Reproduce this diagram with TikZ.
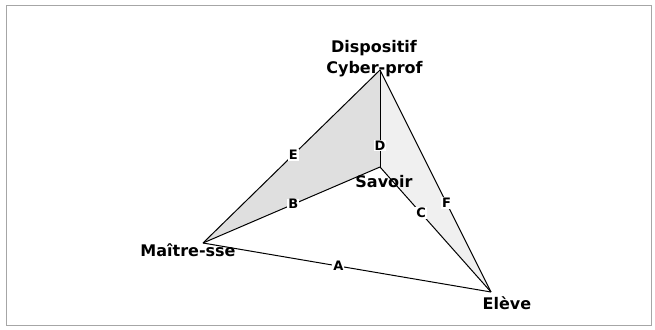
\documentclass[tikz,border=0pt]{standalone}
\usepackage{fontspec}
\setmainfont{DejaVu Sans}
\begin{document}
\begin{tikzpicture}[x=1pt,y=-1pt,
  vertexlabel/.style={font=\bfseries\fontsize{16}{18}\selectfont, inner sep=0pt},
  edgelabel/.style={font=\bfseries\fontsize{13}{15}\selectfont, fill=white, inner sep=1pt},
  edge/.style={draw=black, line width=1pt},
]
\useasboundingbox (0,0) rectangle (655,329);
\draw[gray!70, line width=0.6pt] (6,5) rectangle (651,325);

% corners of the tetrahedron
\coordinate (cyber) at (380,70);
\coordinate (savoir) at (380,167);
\coordinate (maitre) at (203,243);
\coordinate (eleve) at (491,292);

% shaded faces
\fill[gray!25] (maitre) -- (cyber) -- (savoir) -- cycle;
\fill[gray!12] (cyber) -- (eleve) -- (savoir) -- cycle;

% edges with their letters
\draw[edge] (maitre) -- node[edgelabel, pos=0.47] (la) {A} (eleve);
\draw[edge] (maitre) -- node[edgelabel, pos=0.51] (lb) {B} (savoir);
\draw[edge] (savoir) -- node[edgelabel, pos=0.37] (lc) {C} (eleve);
\draw[edge] (cyber) -- node[edgelabel, pos=0.78] (ld) {D} (savoir);
\draw[edge] (cyber) -- node[edgelabel, pos=0.49] (le) {E} (maitre);
\draw[edge] (cyber) -- node[edgelabel, pos=0.6] (lf) {F} (eleve);

% corner names
\node[vertexlabel] (disp) at (374,48) {Dispositif};
\node[vertexlabel] (cyb) at (374.5,69) {Cyber-prof};
\node[vertexlabel] (sav) at (384,182) {Savoir};
\node[vertexlabel] (mai) at (188,250) {Maître-sse};
\node[vertexlabel] (elv) at (507,303) {Elève};
\end{tikzpicture}
\end{document}
